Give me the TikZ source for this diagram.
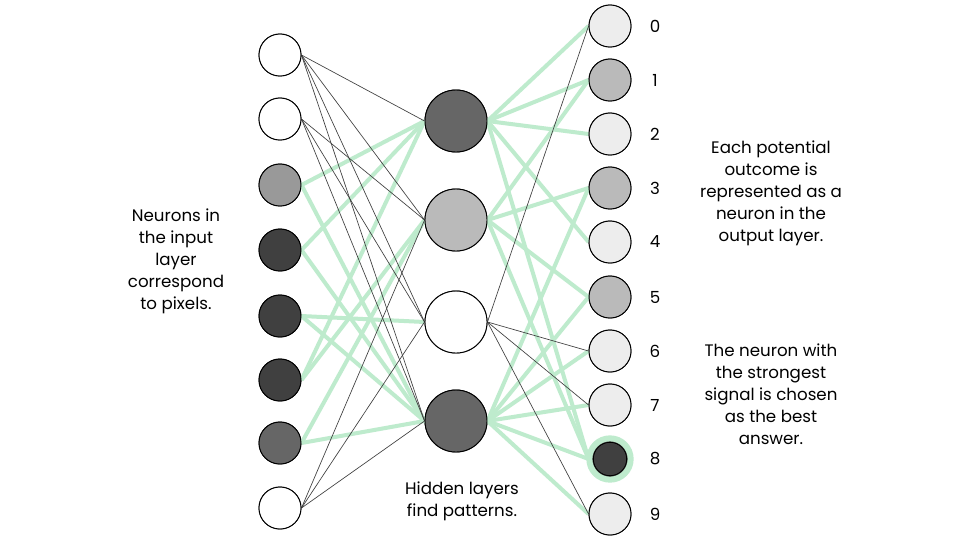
\documentclass[tikz,border=0pt]{standalone}
\usepackage{fontspec}
\setmainfont{Poppins}
\begin{document}
\begin{tikzpicture}[x=0.75pt,y=-0.75pt,
  n/.style={circle,draw=black,line width=0.7pt,minimum size=31.5pt,inner sep=0pt},
  h/.style={circle,draw=black,line width=0.7pt,minimum size=46.5pt,inner sep=0pt},
  g/.style={draw={rgb,255:red,190;green,235;blue,205},line width=3pt},
  b/.style={draw=black!75,line width=0.5pt},
  txt/.style={font=\fontsize{12.5pt}{16.5pt}\selectfont,align=center},
  lab/.style={font=\fontsize{12.5pt}{15pt}\selectfont}]
\useasboundingbox (0,0) rectangle (960,540);
\fill[white] (0,0) rectangle (960,540);
% layer coordinates
\foreach \i/\y/\c in {1/55/white,2/119/white,3/185/black!40,4/250/black!75,5/316/black!75,6/380/black!75,7/443/black!60,8/508/white}
  \node[n,fill=\c] (I\i) at (280,\y) {};
\foreach \i/\y/\c in {1/121/black!60,2/220/black!27,3/322/white,4/421/black!60}
  \node[h,fill=\c] (H\i) at (456,\y) {};
\foreach \i/\y/\c in {0/26/black!7,1/80/black!27,2/134/black!7,3/188/black!27,4/242/black!7,5/297/black!27,6/351/black!7,7/405/black!7,8/459/black!75,9/514/black!7}
  \node[n,fill=\c] (O\i) at (610,\y) {};
\begin{scope}[on background layer/.style={}]
\end{scope}
% connections drawn beneath nodes via pgfonlayer alternative: redraw order
\begin{scope}
\foreach \a/\b in {3/1,3/4,4/1,4/4,5/3,5/4,6/1,6/2,7/2,7/4}
  \draw[g] (I\a.east) -- (H\b.west);
\foreach \a/\b in {1/1,1/2,1/3,1/4,2/2,2/3,2/4,8/2,8/3,8/4}
  \draw[b] (I\a.east) -- (H\b.west);
\foreach \a/\b in {1/0,1/1,1/2,1/4,1/8,2/1,2/3,2/5,2/8,4/3,4/5,4/6,4/7,4/8,4/9}
  \draw[g] (H\a.east) -- (O\b.west);
\foreach \a/\b in {3/0,3/6,3/7,3/9}
  \draw[b] (H\a.east) -- (O\b.west);
\end{scope}
% redraw nodes on top
\foreach \i/\y/\c in {1/55/white,2/119/white,3/185/black!40,4/250/black!75,5/316/black!75,6/380/black!75,7/443/black!60,8/508/white}
  \node[n,fill=\c] at (280,\y) {};
\foreach \i/\y/\c in {1/121/black!60,2/220/black!27,3/322/white,4/421/black!60}
  \node[h,fill=\c] at (456,\y) {};
\foreach \i/\y/\c in {0/26/black!7,1/80/black!27,2/134/black!7,3/188/black!27,4/242/black!7,5/297/black!27,6/351/black!7,7/405/black!7,9/514/black!7}
  \node[n,fill=\c] at (610,\y) {};
\node[n,fill=black!75,draw={rgb,255:red,190;green,235;blue,205},line width=4.5pt,minimum size=31pt] at (610,459) {};
\node[circle,draw=black,line width=0.6pt,minimum size=25pt,inner sep=0pt] at (610,459) {};
\foreach \i/\y in {0/26,1/80,2/134,3/188,4/242,5/297,6/351,7/405,8/459,9/514}
  \node[lab] (L\i) at (655,\y) {\i};
\node[txt] (t1) at (176,261) {Neurons in\\the input\\layer\\correspond\\to pixels.};
\node[txt] (t2) at (462,501) {Hidden layers\\find patterns.};
\node[txt] (t3) at (771,193) {Each potential\\outcome is\\represented as a\\neuron in the\\output layer.};
\node[txt] (t4) at (771,394) {The neuron with\\the strongest\\signal is chosen\\as the best\\answer.};
\end{tikzpicture}
\end{document}
